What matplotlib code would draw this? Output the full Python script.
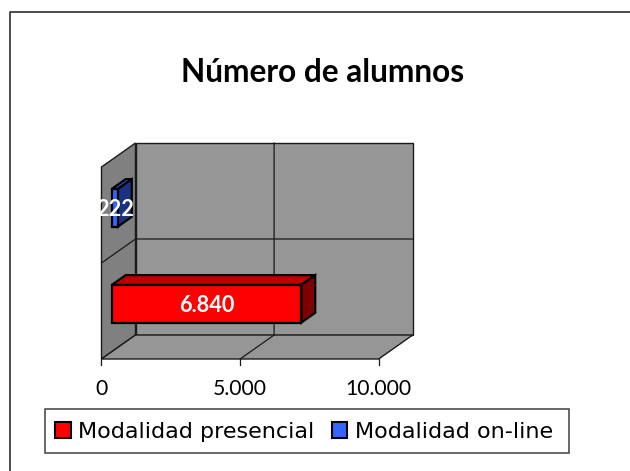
import matplotlib
matplotlib.use("Agg")
import matplotlib.pyplot as plt
from matplotlib.patches import Polygon, Patch, Rectangle
from matplotlib.lines import Line2D

title = "Número de alumnos"
categories = ["Modalidad presencial", "Modalidad on-line"]
values = [6840, 222]
value_labels = ["6.840", "222"]
ticks = [0, 5000, 10000]
tick_labels = ["0", "5.000", "10.000"]
colors = ["#FF0000", "#3366FF"]
top_colors = ["#C00000", "#2850CC"]
side_colors = ["#800000", "#1A3380"]

FONT = "Lato"
W, H = 630, 471
PX_PER_UNIT = 0.02772
PX_PER_CAT = 96.0
X0, Y0 = 101.5, 359.0
DX = 34 / PX_PER_UNIT     # depth shift, value units
DY = 24 / PX_PER_CAT      # depth shift, category units
GAP_FRAC = 0.392          # bar thickness inside a band
D_FRONT, D_BACK = 0.30, 0.71
WALL, SIDE, LINE = "#969696", "#808080", "#1a1a1a"

fig = plt.figure(figsize=(W / 100, H / 100), dpi=100, facecolor="white")
ax = fig.add_axes([0, 0, 1, 1])
ax.set_xlim(-X0 / PX_PER_UNIT, (W - X0) / PX_PER_UNIT)
ax.set_ylim(-(H - Y0) / PX_PER_CAT, Y0 / PX_PER_CAT)
ax.axis("off")


def proj(v, c, d=0.0):
    return (v + d * DX, c + d * DY)


def poly(points, fc, lw=1.0, ec=LINE, z=1):
    ax.add_patch(Polygon(points, closed=True, fc=fc, ec=ec, lw=lw, zorder=z, joinstyle="miter"))


vmax = ticks[-1]
ncat = len(categories)
# walls
poly([proj(0, 0, 1), proj(vmax, 0, 1), proj(vmax, ncat, 1), proj(0, ncat, 1)], WALL)
poly([proj(0, 0, 0), proj(0, 0, 1), proj(0, ncat, 1), proj(0, ncat, 0)], SIDE)
poly([proj(0, 0, 0), proj(vmax, 0, 0), proj(vmax, 0, 1), proj(0, 0, 1)], WALL)
# gridlines
for t in ticks[1:-1]:
    ax.plot(*zip(proj(t, 0, 0), proj(t, 0, 1), proj(t, ncat, 1)), color=LINE, lw=0.9, zorder=2)
for c in range(1, ncat):
    ax.plot(*zip(proj(0, c, 0), proj(0, c, 1), proj(vmax, c, 1)), color=LINE, lw=0.9, zorder=2)
# ticks
for t, lab in zip(ticks, tick_labels):
    x, _ = proj(t, 0)
    ax.plot([x, x], [0, -6 / PX_PER_CAT], color=LINE, lw=0.9, zorder=2)
    ax.text(x, -36 / PX_PER_CAT, lab, ha="center", va="baseline", fontsize=15.2,
            family=FONT, color="black")

# bars
for i, v in enumerate(values):
    lo = i + 0.5 - GAP_FRAC / 2
    hi = i + 0.5 + GAP_FRAC / 2
    z = 5 - i
    poly([proj(0, hi, D_FRONT), proj(0, hi, D_BACK), proj(v, hi, D_BACK), proj(v, hi, D_FRONT)],
         top_colors[i], lw=1.6, ec="black", z=z)
    poly([proj(v, lo, D_FRONT), proj(v, lo, D_BACK), proj(v, hi, D_BACK), proj(v, hi, D_FRONT)],
         side_colors[i], lw=1.6, ec="black", z=z)
    poly([proj(0, lo, D_FRONT), proj(v, lo, D_FRONT), proj(v, hi, D_FRONT), proj(0, hi, D_FRONT)],
         colors[i], lw=1.6, ec="black", z=z)
    cx, cy = proj(v / 2, i + 0.5, D_FRONT)
    ax.text(cx, cy, value_labels[i], ha="center", va="center_baseline", color="white",
            fontsize=15.6, fontweight="bold", family=FONT, zorder=10)

# title
fig.text(323 / W, 1 - 82 / H, title, ha="center", va="baseline", fontsize=22.8,
         fontweight="bold", family=FONT, color="black")

# outer frame: only the top and left edges fall inside the picture
fig.add_artist(Line2D([10 / W, 10 / W, 1], [0, 1 - 12 / H, 1 - 12 / H], color="#303030", lw=1.2,
                      transform=fig.transFigure))

# legend box and legend
fig.add_artist(Rectangle((45.5 / W, 1 - 452.7 / H), 523 / W, 43.7 / H, fc="white", ec="#404040",
                         lw=1.1, transform=fig.transFigure))
LEG_FS = 16.0
em = LEG_FS * 100 / 72
handles = [Patch(fc=c, ec="black", lw=1.5) for c in colors]
leg = fig.legend(handles, categories, ncol=2, loc="center left",
                 bbox_to_anchor=(55 / W, 1 - 432 / H),
                 prop={"family": "DejaVu Sans", "size": LEG_FS},
                 frameon=False,
                 handlelength=15.5 / em, handleheight=15.5 / em, handletextpad=8 / em,
                 columnspacing=17 / em, borderpad=0, borderaxespad=0)

fig.savefig("out.png", dpi=100)
